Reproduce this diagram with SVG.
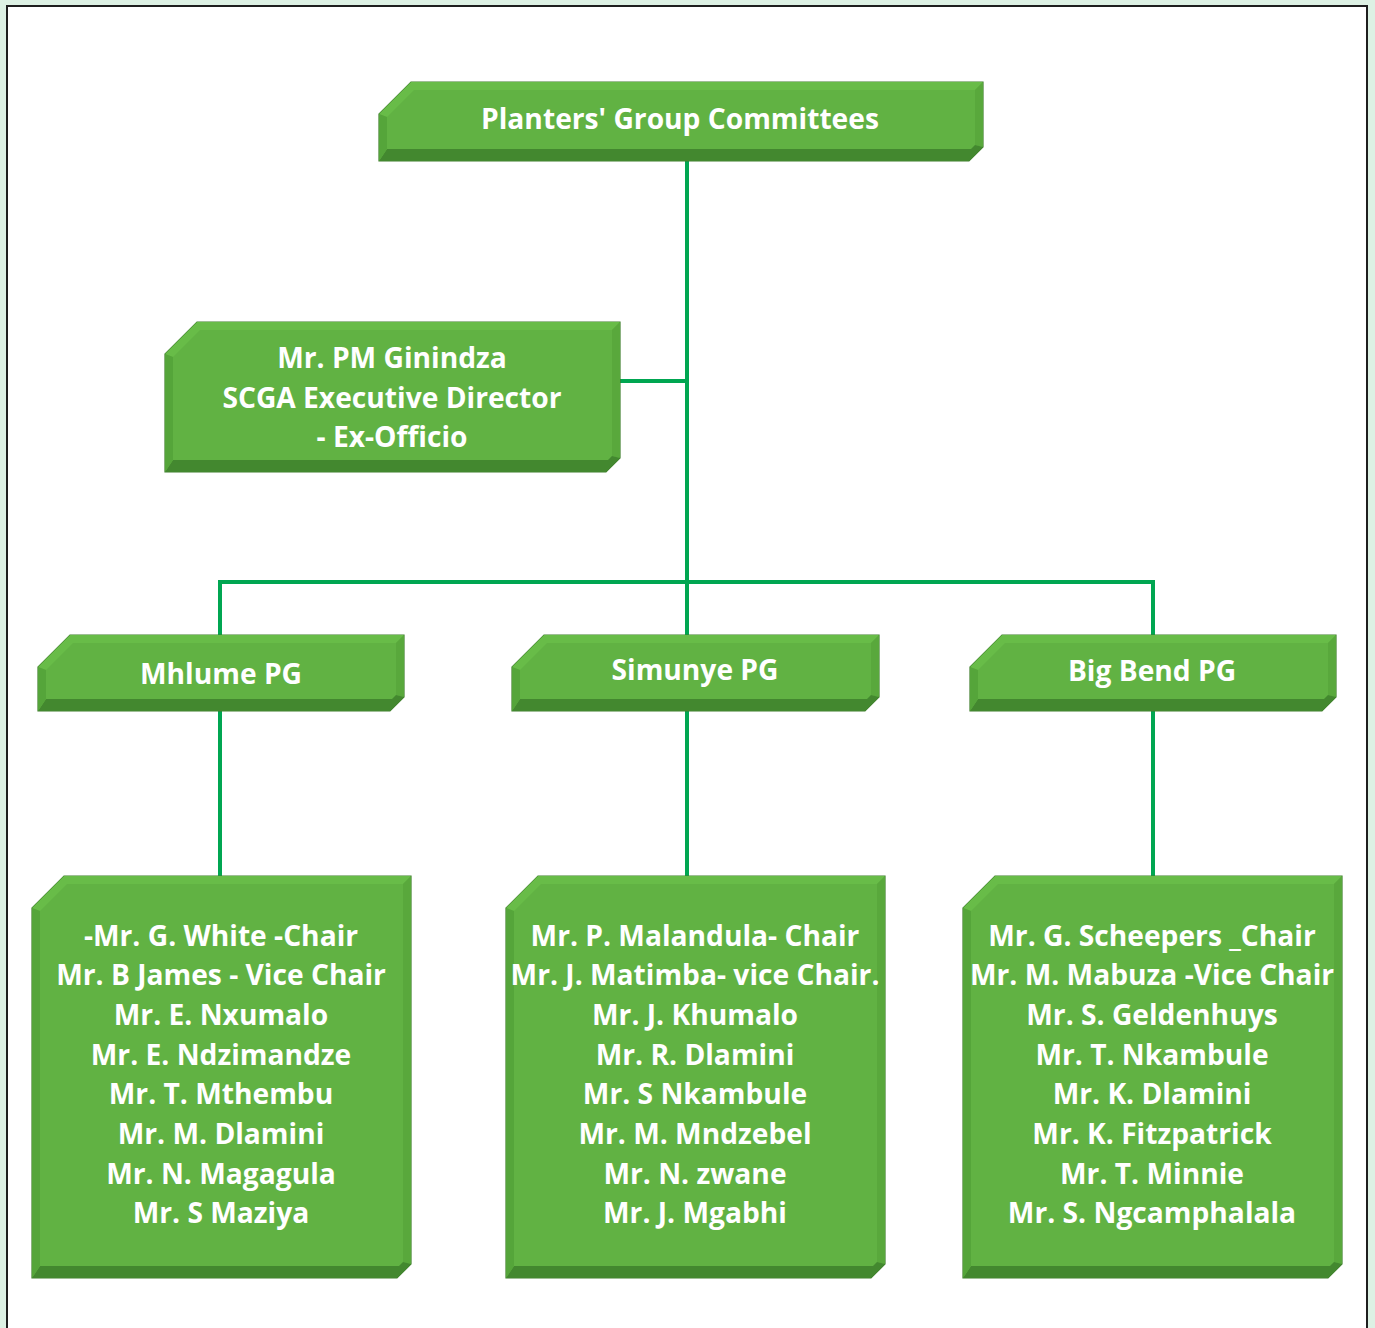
<svg xmlns="http://www.w3.org/2000/svg" width="1375" height="1328" viewBox="0 0 1375 1328">
<defs>
<style>
.face{fill:#61b243;stroke:#3f7f2c;stroke-width:1.2}
.tb{fill:#68bc48}
.rb{fill:#59a83c}
.bb{fill:#43882f}
.lb{fill:#55a53a}
.t{font-family:"Open Sans","Noto Sans",sans-serif;font-weight:700;font-size:28.2px;fill:#ffffff;text-anchor:middle}
.c{stroke:#00a651;stroke-width:4;fill:none}
</style>
</defs>
<rect x="0" y="0" width="1375" height="1328" fill="#ddf1e4"/>
<rect x="7" y="6" width="1360" height="1340" fill="#ffffff" stroke="#1e1e1e" stroke-width="2"/>
<g id="connectors">
<line class="c" x1="687" y1="161" x2="687" y2="635"/>
<line class="c" x1="620" y1="381" x2="687" y2="381"/>
<polyline class="c" points="220,635 220,582 1153,582 1153,635"/>
<line class="c" x1="220" y1="711" x2="220" y2="876"/>
<line class="c" x1="687" y1="711" x2="687" y2="876"/>
<line class="c" x1="1153" y1="711" x2="1153" y2="876"/>
</g>
<g id="top" transform="translate(379,82)">
<polygon class="face" points="32,0 604,0 604,65 590,79 0,79 0,32"/>
<polygon class="tb" points="0,32 32,0 604,0 596,8 35,8 8,35"/>
<polygon class="rb" points="604,0 604,65 596,63 596,8"/>
<polygon class="bb" points="604,65 590,79 0,79 8,67 592,67 596,63"/>
<polygon class="lb" points="0,32 8,35 8,67 0,79"/>
<text class="t" x="301" y="47">Planters' Group Committees</text>
</g>
<g id="director" transform="translate(165,322)">
<polygon class="face" points="32,0 455,0 455,136 441,150 0,150 0,32"/>
<polygon class="tb" points="0,32 32,0 455,0 447,8 35,8 8,35"/>
<polygon class="rb" points="455,0 455,136 447,134 447,8"/>
<polygon class="bb" points="455,136 441,150 0,150 8,138 443,138 447,134"/>
<polygon class="lb" points="0,32 8,35 8,138 0,150"/>
<text class="t" x="227" y="46">Mr. PM Ginindza</text>
<text class="t" x="227" y="86">SCGA Executive Director</text>
<text class="t" x="227" y="125">- Ex-Officio</text>
</g>
<g id="mhlume" transform="translate(38,635)">
<polygon class="face" points="32,0 366,0 366,62 352,76 0,76 0,32"/>
<polygon class="tb" points="0,32 32,0 366,0 358,8 35,8 8,35"/>
<polygon class="rb" points="366,0 366,62 358,60 358,8"/>
<polygon class="bb" points="366,62 352,76 0,76 8,64 354,64 358,60"/>
<polygon class="lb" points="0,32 8,35 8,64 0,76"/>
<text class="t" x="183" y="49">Mhlume PG</text>
</g>
<g id="simunye" transform="translate(512,635)">
<polygon class="face" points="32,0 367,0 367,62 353,76 0,76 0,32"/>
<polygon class="tb" points="0,32 32,0 367,0 359,8 35,8 8,35"/>
<polygon class="rb" points="367,0 367,62 359,60 359,8"/>
<polygon class="bb" points="367,62 353,76 0,76 8,64 355,64 359,60"/>
<polygon class="lb" points="0,32 8,35 8,64 0,76"/>
<text class="t" x="183" y="45">Simunye PG</text>
</g>
<g id="bigbend" transform="translate(970,635)">
<polygon class="face" points="32,0 366,0 366,62 352,76 0,76 0,32"/>
<polygon class="tb" points="0,32 32,0 366,0 358,8 35,8 8,35"/>
<polygon class="rb" points="366,0 366,62 358,60 358,8"/>
<polygon class="bb" points="366,62 352,76 0,76 8,64 354,64 358,60"/>
<polygon class="lb" points="0,32 8,35 8,64 0,76"/>
<text class="t" x="182" y="46">Big Bend PG</text>
</g>
<g id="mhlume-members" transform="translate(32,876)">
<polygon class="face" points="32,0 379,0 379,388 365,402 0,402 0,32"/>
<polygon class="tb" points="0,32 32,0 379,0 371,8 35,8 8,35"/>
<polygon class="rb" points="379,0 379,388 371,386 371,8"/>
<polygon class="bb" points="379,388 365,402 0,402 8,390 367,390 371,386"/>
<polygon class="lb" points="0,32 8,35 8,390 0,402"/>
<text class="t" x="189" y="70">-Mr. G. White -Chair</text>
<text class="t" x="189" y="109">Mr. B James - Vice Chair</text>
<text class="t" x="189" y="149">Mr. E. Nxumalo</text>
<text class="t" x="189" y="189">Mr. E. Ndzimandze</text>
<text class="t" x="189" y="228">Mr. T. Mthembu</text>
<text class="t" x="189" y="268">Mr. M. Dlamini</text>
<text class="t" x="189" y="308">Mr. N. Magagula</text>
<text class="t" x="189" y="347">Mr. S Maziya</text>
</g>
<g id="simunye-members" transform="translate(506,876)">
<polygon class="face" points="32,0 379,0 379,388 365,402 0,402 0,32"/>
<polygon class="tb" points="0,32 32,0 379,0 371,8 35,8 8,35"/>
<polygon class="rb" points="379,0 379,388 371,386 371,8"/>
<polygon class="bb" points="379,388 365,402 0,402 8,390 367,390 371,386"/>
<polygon class="lb" points="0,32 8,35 8,390 0,402"/>
<text class="t" x="189" y="70">Mr. P. Malandula- Chair</text>
<text class="t" x="189" y="109">Mr. J. Matimba- vice Chair.</text>
<text class="t" x="189" y="149">Mr. J. Khumalo</text>
<text class="t" x="189" y="189">Mr. R. Dlamini</text>
<text class="t" x="189" y="228">Mr. S Nkambule</text>
<text class="t" x="189" y="268">Mr. M. Mndzebel</text>
<text class="t" x="189" y="308">Mr. N. zwane</text>
<text class="t" x="189" y="347">Mr. J. Mgabhi</text>
</g>
<g id="bigbend-members" transform="translate(963,876)">
<polygon class="face" points="32,0 379,0 379,388 365,402 0,402 0,32"/>
<polygon class="tb" points="0,32 32,0 379,0 371,8 35,8 8,35"/>
<polygon class="rb" points="379,0 379,388 371,386 371,8"/>
<polygon class="bb" points="379,388 365,402 0,402 8,390 367,390 371,386"/>
<polygon class="lb" points="0,32 8,35 8,390 0,402"/>
<text class="t" x="189" y="70">Mr. G. Scheepers _Chair</text>
<text class="t" x="189" y="109">Mr. M. Mabuza -Vice Chair</text>
<text class="t" x="189" y="149">Mr. S. Geldenhuys</text>
<text class="t" x="189" y="189">Mr. T. Nkambule</text>
<text class="t" x="189" y="228">Mr. K. Dlamini</text>
<text class="t" x="189" y="268">Mr. K. Fitzpatrick</text>
<text class="t" x="189" y="308">Mr. T. Minnie</text>
<text class="t" x="189" y="347">Mr. S. Ngcamphalala</text>
</g>
</svg>
